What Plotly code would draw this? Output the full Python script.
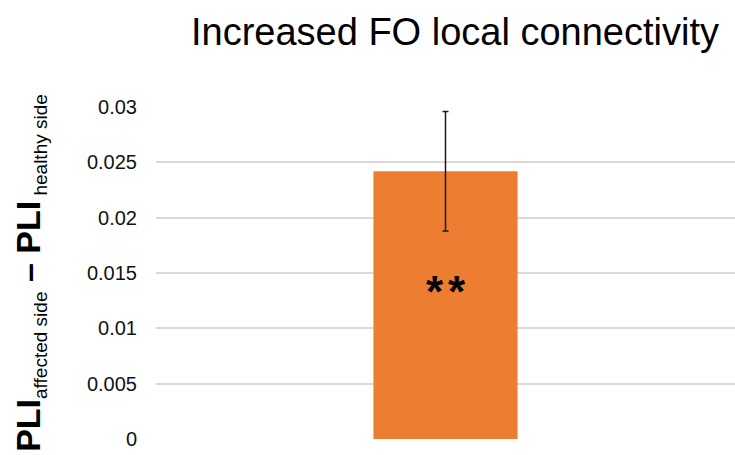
import plotly.graph_objects as go

# Mean PLI difference (affected side minus healthy side) with its error
categories = ["FO"]
pli_difference = [0.0242]
pli_error = [0.0054]
significance = ["**"]
tick_values = [0, 0.005, 0.01, 0.015, 0.02, 0.025, 0.03]
tick_labels = ["0", "0.005", "0.01", "0.015", "0.02", "0.025", "0.03"]

sans = "Liberation Sans, Arial, sans-serif"

y_title = (
    "<b>PLI</b><sub><span style='font-size:19px'>affected side</span></sub>"
    "<b> – PLI</b><sub><span style='font-size:19px'> healthy side</span></sub>"
)

fig = go.Figure()
fig.add_trace(go.Bar(
    x=categories,
    y=pli_difference,
    marker=dict(color="#ED7D31", line=dict(width=0)),
    error_y=dict(type="data", array=pli_error, visible=True,
                 color="#1a1a1a", thickness=1.5, width=3),
))

# significance marker inside the bar, a little above its mid-height
for cat, val, mark in zip(categories, pli_difference, significance):
    fig.add_annotation(x=cat, y=val / 2,
                       text=f"<span style='letter-spacing:5px'>{mark}</span>",
                       showarrow=False, yshift=14, xshift=2,
                       font=dict(family=sans, size=44, color="#000000",
                                 weight="bold"))

fig.update_layout(
    width=735, height=455,
    margin=dict(l=156, r=0, t=107, b=16),
    paper_bgcolor="white", plot_bgcolor="white",
    bargap=0.751,
    showlegend=False,
    title=dict(text="Increased FO local connectivity",
               font=dict(family=sans, size=38, color="#000000"),
               x=0.619, xanchor="center", y=0.93, yanchor="middle"),
    xaxis=dict(showticklabels=False, showgrid=False, zeroline=False,
               showline=False, ticks=""),
    yaxis=dict(range=[0, 0.03], tickvals=tick_values, ticktext=tick_labels,
               tickfont=dict(family=sans, size=20, color="#111111"),
               showgrid=True, gridcolor="#d9d9d9", gridwidth=1.5,
               zeroline=False, showline=False, ticks="", ticklabelstandoff=18,
               title=dict(text=y_title,
                          font=dict(family=sans, size=34, color="#000000"),
                          standoff=36)),
)

fig.write_html("out.html")
